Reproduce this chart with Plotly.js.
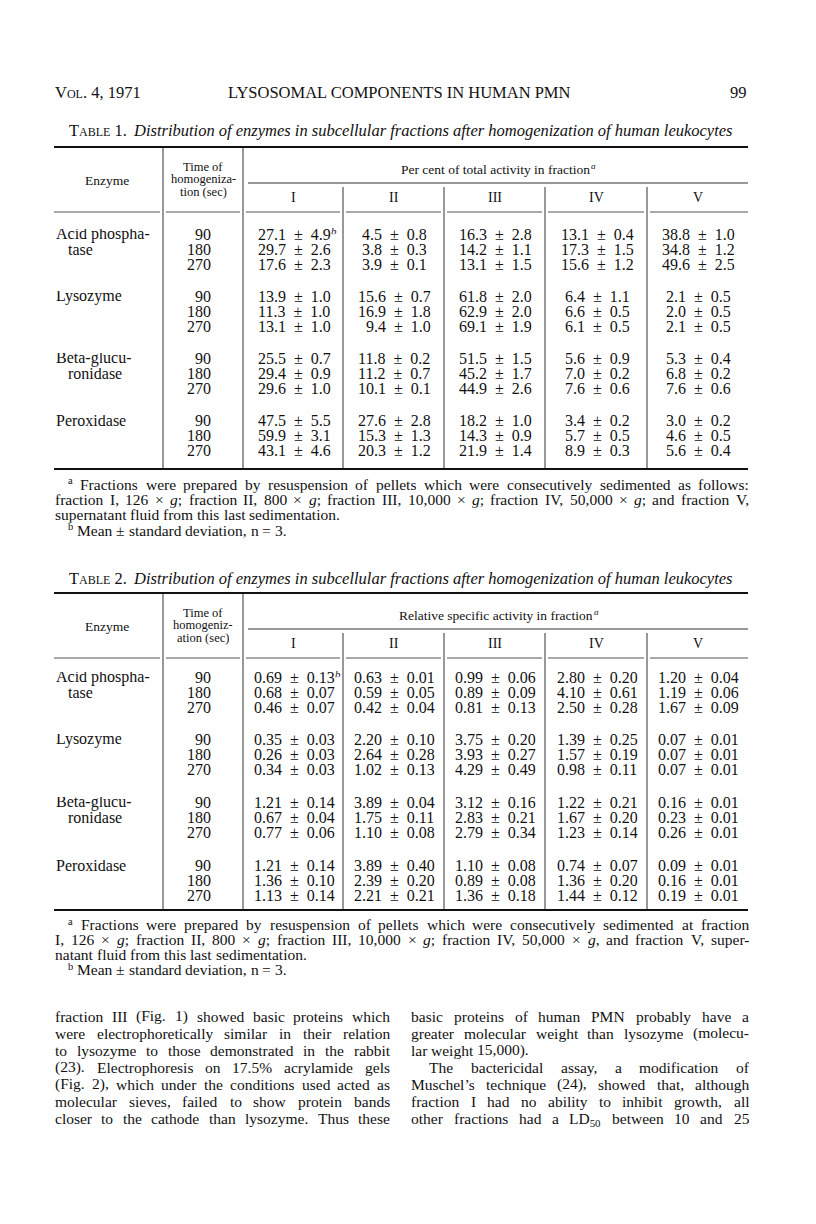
<!DOCTYPE html>
<html>
<head>
<meta charset="utf-8">
<script src="https://cdn.plot.ly/plotly-3.0.1.min.js"></script>
<style>html,body{margin:0;padding:0;background:#fff;} #page{width:816px;height:1224px;}</style>
</head>
<body>
<div id="page"></div>
<script>
// ---------------- DATA ----------------
const runningHead = ["Vol. 4, 1971", "LYSOSOMAL COMPONENTS IN HUMAN PMN", "99"];
const tableNumbers = ["Table 1.", "Table 2."];
const tableCaption = "Distribution of enzymes in subcellular fractions after homogenization of human leukocytes";
const enzymeHead = "Enzyme";
const timeHead1 = ["Time of", "homogeniza-", "tion (sec)"];
const timeHead2 = ["Time of", "homogeniz-", "ation (sec)"];
const spanHead1 = "Per cent of total activity in fraction";
const spanHead2 = "Relative specific activity in fraction";
const fractions = ["I", "II", "III", "IV", "V"];
const enzymeLabels = [["Acid phospha-", "tase"], ["Lysozyme"], ["Beta-glucu-", "ronidase"], ["Peroxidase"]];
const times = [90, 180, 270];

// Table 1: per cent of total activity (rows: enzyme x time, cols: fractions I-V)
const t1Mean = [
  [27.1, 4.5, 16.3, 13.1, 38.8], [29.7, 3.8, 14.2, 17.3, 34.8], [17.6, 3.9, 13.1, 15.6, 49.6],
  [13.9, 15.6, 61.8, 6.4, 2.1], [11.3, 16.9, 62.9, 6.6, 2.0], [13.1, 9.4, 69.1, 6.1, 2.1],
  [25.5, 11.8, 51.5, 5.6, 5.3], [29.4, 11.2, 45.2, 7.0, 6.8], [29.6, 10.1, 44.9, 7.6, 7.6],
  [47.5, 27.6, 18.2, 3.4, 3.0], [59.9, 15.3, 14.3, 5.7, 4.6], [43.1, 20.3, 21.9, 8.9, 5.6]
];
const t1Sd = [
  [4.9, 0.8, 2.8, 0.4, 1.0], [2.6, 0.3, 1.1, 1.5, 1.2], [2.3, 0.1, 1.5, 1.2, 2.5],
  [1.0, 0.7, 2.0, 1.1, 0.5], [1.0, 1.8, 2.0, 0.5, 0.5], [1.0, 1.0, 1.9, 0.5, 0.5],
  [0.7, 0.2, 1.5, 0.9, 0.4], [0.9, 0.7, 1.7, 0.2, 0.2], [1.0, 0.1, 2.6, 0.6, 0.6],
  [5.5, 2.8, 1.0, 0.2, 0.2], [3.1, 1.3, 0.9, 0.5, 0.5], [4.6, 1.2, 1.4, 0.3, 0.4]
];
// Table 2: relative specific activity
const t2Mean = [
  [0.69, 0.63, 0.99, 2.80, 1.20], [0.68, 0.59, 0.89, 4.10, 1.19], [0.46, 0.42, 0.81, 2.50, 1.67],
  [0.35, 2.20, 3.75, 1.39, 0.07], [0.26, 2.64, 3.93, 1.57, 0.07], [0.34, 1.02, 4.29, 0.98, 0.07],
  [1.21, 3.89, 3.12, 1.22, 0.16], [0.67, 1.75, 2.83, 1.67, 0.23], [0.77, 1.10, 2.79, 1.23, 0.26],
  [1.21, 3.89, 1.10, 0.74, 0.09], [1.36, 2.39, 0.89, 1.36, 0.16], [1.13, 2.21, 1.36, 1.44, 0.19]
];
const t2Sd = [
  [0.13, 0.01, 0.06, 0.20, 0.04], [0.07, 0.05, 0.09, 0.61, 0.06], [0.07, 0.04, 0.13, 0.28, 0.09],
  [0.03, 0.10, 0.20, 0.25, 0.01], [0.03, 0.28, 0.27, 0.19, 0.01], [0.03, 0.13, 0.49, 0.11, 0.01],
  [0.14, 0.04, 0.16, 0.21, 0.01], [0.04, 0.11, 0.21, 0.20, 0.01], [0.06, 0.08, 0.34, 0.14, 0.01],
  [0.14, 0.40, 0.08, 0.07, 0.01], [0.10, 0.20, 0.08, 0.20, 0.01], [0.14, 0.21, 0.18, 0.12, 0.01]
];
const notes1 = [
  "<sup>a</sup> Fractions were prepared by resuspension of pellets which were consecutively sedimented as follows:",
  "fraction I, 126 × <i>g</i>; fraction II, 800 × <i>g</i>; fraction III, 10,000 × <i>g</i>; fraction IV, 50,000 × <i>g</i>; and fraction V,",
  "supernatant fluid from this last sedimentation.",
  "<sup>b</sup> Mean ± standard deviation, n = 3."
];
const notes2 = [
  "<sup>a</sup> Fractions were prepared by resuspension of pellets which were consecutively sedimented at fraction",
  "I, 126 × <i>g</i>; fraction II, 800 × <i>g</i>; fraction III, 10,000 × <i>g</i>; fraction IV, 50,000 × <i>g</i>, and fraction V, super-",
  "natant fluid from this last sedimentation.",
  "<sup>b</sup> Mean ± standard deviation, n = 3."
];
const bodyLeft = [
  "fraction III (Fig. 1) showed basic proteins which",
  "were electrophoretically similar in their relation",
  "to lysozyme to those demonstrated in the rabbit",
  "(23). Electrophoresis on 17.5% acrylamide gels",
  "(Fig. 2), which under the conditions used acted as",
  "molecular sieves, failed to show protein bands",
  "closer to the cathode than lysozyme. Thus these"
];
const bodyRight = [
  "basic proteins of human PMN probably have a",
  "greater molecular weight than lysozyme (molecu-",
  "lar weight 15,000).",
  "The bactericidal assay, a modification of",
  "Muschel’s technique (24), showed that, although",
  "fraction I had no ability to inhibit growth, all",
  "other fractions had a LD<sub>50</sub> between 10 and 25"
];

// ---------------- LAYOUT ----------------
const FAM = '"Liberation Serif", "Times New Roman", serif';
const INK = '#111111';
const annotations = [];
const shapes = [];
const cv = document.createElement('canvas').getContext('2d');

function measure(html, size, prefix) {
  const parts = html.split(/(<\/?(?:i|sup|sub)>)/);
  let italic = false, scale = 1, w = 0;
  for (const p of parts) {
    if (p === '<i>') italic = true;
    else if (p === '</i>') italic = false;
    else if (p === '<sup>' || p === '<sub>') scale = 0.7;
    else if (p === '</sup>' || p === '</sub>') scale = 1;
    else if (p) {
      cv.font = (prefix || '') + (italic ? 'italic ' : '') + (size * scale) + 'px "Liberation Serif"';
      w += cv.measureText(p.replace(/<[^>]+>/g, '')).width;
    }
  }
  return w;
}
function txt(text, x, y, size, anchor, extra, fontExtra) {
  annotations.push(Object.assign({
    text: text, x: x, y: y, xref: 'x', yref: 'y', showarrow: false,
    xanchor: anchor || 'left', yanchor: 'middle', borderpad: 0,
    font: Object.assign({family: FAM, size: size, color: INK}, fontExtra || {})
  }, extra || {}));
}
// text whose box is trimmed only above the glyphs (empty ascent space), so tight rows do not collide
function tight(text, x, y, size, anchor, h) {
  const bh = 1.107 * size;
  if (!h || h >= bh || text.indexOf('<sub>') >= 0) { txt(text, x, y, size, anchor); return; }
  txt(text, x, y + (bh - h) / 2, size, anchor, {height: h, valign: 'bottom'});
}
function line(x0, y0, x1, y1, w, color) {
  shapes.push({type: 'line', xref: 'x', yref: 'y', x0: x0, y0: y0, x1: x1, y1: y1,
    line: {color: color || INK, width: w || 1}, layer: 'above'});
}
// raised small letter (footnote marks)
function mark(letter, x, y, size, italic) {
  txt(letter, x, y - size * 0.22, size * 0.68, 'left', {height: size * 0.46}, italic ? {style: 'italic'} : {});
}
function placeWord(w, x, y, size, h) {
  const m = w.match(/^<sup>(.*)<\/sup>$/);
  if (m) mark(m[1], x, y, size);
  else tight(w, x, y, size, 'left', h);
}
function justified(text, x0, x1, y, size, just, h) {
  const words = text.split(' ');
  let ws = words.map(w => measure(w, size));
  let total = ws.reduce((a, b) => a + b, 0);
  let gap = measure(' ', size);
  if (just) {
    const minGap = size * 0.2;
    if (total + minGap * (words.length - 1) > x1 - x0) {
      const f = (x1 - x0 - minGap * (words.length - 1)) / total;
      size = size * f; ws = ws.map(v => v * f); total *= f;
    }
    gap = (x1 - x0 - total) / (words.length - 1);
  }
  let x = x0;
  words.forEach((w, i) => { placeWord(w, x, y, size, h); x += ws[i] + gap; });
}

// page geometry
const PAGE_L = 54, PAGE_R = 748;
const colX = [PAGE_L, 163, 243, 343, 444, 545, 647, PAGE_R];
const VAL_SIZE = 16, NOTE_SIZE = 15.5, BODY_SIZE = 15.5, HEAD_SIZE = 16.5;

// running head
txt(runningHead[0], PAGE_L, 92, HEAD_SIZE, 'left', {}, {variant: 'small-caps'});
txt(runningHead[1], 399, 92, HEAD_SIZE, 'center');
txt(runningHead[2], PAGE_R, 92, HEAD_SIZE, 'right');

function drawTable(cfg) {
  // caption: small-caps table number followed by italic caption, centred as one line
  const wNum = measure(cfg.num, HEAD_SIZE, 'small-caps ');
  const wCap = measure('<i>' + tableCaption + '</i>', HEAD_SIZE);
  const wSp = measure(' ', HEAD_SIZE);
  const split = 400 - (wNum + wSp + wCap) / 2 + wNum;
  txt(cfg.num, split, cfg.title, HEAD_SIZE, 'right', {}, {variant: 'small-caps'});
  txt(tableCaption, split + wSp, cfg.title, HEAD_SIZE, 'left', {}, {style: 'italic'});
  // rules
  line(PAGE_L, cfg.top, PAGE_R, cfg.top, 2.2);
  line(PAGE_L, cfg.bottom, PAGE_R, cfg.bottom, 2.2);
  line(colX[2] + 5, cfg.spanLine, PAGE_R, cfg.spanLine, 1, '#333');
  for (let i = 0; i < colX.length - 1; i++) {
    line(colX[i] + (i ? 3 : 0), cfg.headBottom, colX[i + 1] - (i < colX.length - 2 ? 3 : 0), cfg.headBottom, 1, '#555');
  }
  line(colX[1], cfg.top + 1, colX[1], cfg.bottom - 1, 1, '#333');
  line(colX[2], cfg.top + 1, colX[2], cfg.bottom - 1, 1, '#333');
  for (let i = 3; i < 7; i++) line(colX[i], cfg.spanLine + 4, colX[i], cfg.bottom - 1, 1, '#333');
  // header texts
  txt(enzymeHead, 107, cfg.enzymeHead, 13.5, 'center');
  cfg.timeHead.forEach((t, i) => tight(t, 203, cfg.timeHeadY[i], 12.5, 'center', 12));
  const spanX = (colX[2] + PAGE_R) / 2;
  txt(cfg.spanHead, spanX, cfg.spanText, 13.5, 'center');
  mark('a', spanX + measure(cfg.spanHead, 13.5) / 2 + 0.5, cfg.spanText, 13.5, true);
  fractions.forEach((f, i) => txt(f, (colX[i + 2] + colX[i + 3]) / 2, cfg.numerals, 14, 'center'));
  // body
  const H = cfg.rowStep - 0.6;
  const rowY = (g, r) => cfg.row0 + g * cfg.groupStep + r * cfg.rowStep;
  enzymeLabels.forEach((lab, g) => {
    lab.forEach((l, k) => tight(l, k ? 67 : 55, rowY(g, k), VAL_SIZE, 'left', H));
    times.forEach((t, r) => tight(String(t), 212, rowY(g, r), VAL_SIZE, 'right', H));
    for (let c = 0; c < fractions.length; c++) {
      const rows = [0, 1, 2].map(r => g * 3 + r);
      const intDigits = rows.map(i => String(Math.floor(cfg.mean[i][c])).length);
      const maxInt = Math.max(...intDigits);
      const strs = rows.map((i, k) => '\u2007'.repeat(maxInt - intDigits[k]) +
        cfg.mean[i][c].toFixed(cfg.dec) + '\u2002±\u2002' + cfg.sd[i][c].toFixed(cfg.dec));
      const gw = Math.max(...strs.map(s => measure(s, VAL_SIZE)));
      const x = colX[c + 2] + (colX[c + 3] - colX[c + 2] - gw) / 2;
      strs.forEach((s, r) => {
        tight(s, x, rowY(g, r), VAL_SIZE, 'left', H);
        if (g === 0 && r === 0 && c === 0) mark('b', x + measure(s, VAL_SIZE) + 0.5, rowY(g, r), VAL_SIZE, true);
      });
    }
  });
  // footnotes
  cfg.notes.forEach((n, i) => {
    const x0 = (i === 0 || i === 3) ? 67 : PAGE_L;
    justified(n, x0, PAGE_R, cfg.note0 + i * cfg.noteStep, NOTE_SIZE, i < 2, cfg.noteStep - 0.6);
  });
}

drawTable({num: tableNumbers[0], title: 130, top: 147, spanText: 169, spanLine: 183, numerals: 197,
  headBottom: 212, enzymeHead: 180, timeHead: timeHead1, timeHeadY: [167, 179.5, 192], spanHead: spanHead1,
  row0: 234, rowStep: 15, groupStep: 62, bottom: 469, mean: t1Mean, sd: t1Sd, dec: 1,
  notes: notes1, note0: 484, noteStep: 15.3});
drawTable({num: tableNumbers[1], title: 578, top: 593, spanText: 615, spanLine: 629, numerals: 643,
  headBottom: 658, enzymeHead: 626, timeHead: timeHead2, timeHeadY: [613, 625.5, 638], spanHead: spanHead2,
  row0: 677, rowStep: 15, groupStep: 62.7, bottom: 910, mean: t2Mean, sd: t2Sd, dec: 2,
  notes: notes2, note0: 925, noteStep: 15});

// body text (two justified columns)
const BODY_Y0 = 1017, BODY_STEP = 17, COL_L = [54, 389], COL_R = [410, PAGE_R];
bodyLeft.forEach((l, i) => justified(l, COL_L[0], COL_L[1], BODY_Y0 + i * BODY_STEP, BODY_SIZE, true, BODY_STEP - 0.6));
bodyRight.forEach((l, i) => {
  const x0 = i === 3 ? COL_R[0] + 18 : COL_R[0];
  justified(l, x0, COL_R[1], BODY_Y0 + i * BODY_STEP, BODY_SIZE, i !== 2, BODY_STEP - 0.6);
});

Plotly.newPlot('page', [{x: [], y: [], type: 'scatter', hoverinfo: 'skip'}], {
  width: 816, height: 1224, margin: {l: 0, r: 0, t: 0, b: 0},
  paper_bgcolor: '#fff', plot_bgcolor: '#fff', showlegend: false,
  xaxis: {range: [0, 816], visible: false, fixedrange: true},
  yaxis: {range: [1224, 0], visible: false, fixedrange: true},
  annotations: annotations, shapes: shapes
}, {staticPlot: true, displayModeBar: false});
</script>
</body>
</html>
